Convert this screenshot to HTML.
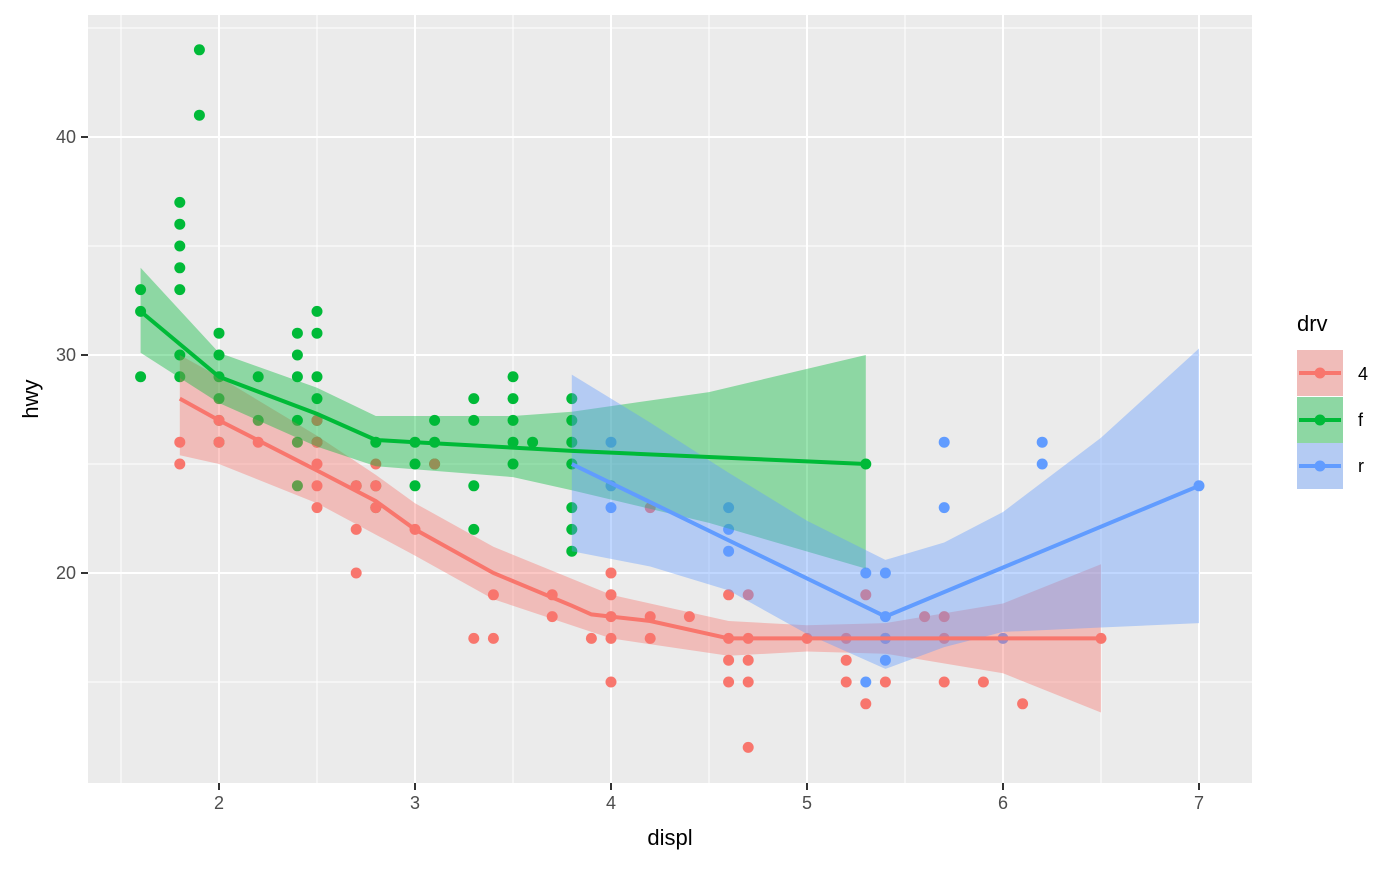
<!DOCTYPE html>
<html><head><meta charset="utf-8"><style>
html,body{margin:0;padding:0;background:#fff;}
svg text{font-family:"Liberation Sans",Arial,sans-serif;}
</style></head><body>
<svg id="s" width="1400" height="866" xmlns="http://www.w3.org/2000/svg">
<rect x="88" y="15" width="1164" height="768" fill="#EBEBEB"/>
<g id="grid"></g>
<g id="pts"></g>
<g id="rib"></g>
<g id="lines"></g>
<g font-size="18" fill="#4D4D4D" text-anchor="end">
<text x="76" y="143">40</text><text x="76" y="361">30</text><text x="76" y="579">20</text>
</g>
<g stroke="#333" stroke-width="2">
<line x1="81" y1="137" x2="88" y2="137"/><line x1="81" y1="355" x2="88" y2="355"/><line x1="81" y1="573" x2="88" y2="573"/>
<line x1="219" y1="783" x2="219" y2="790"/><line x1="415" y1="783" x2="415" y2="790"/><line x1="611" y1="783" x2="611" y2="790"/><line x1="807" y1="783" x2="807" y2="790"/><line x1="1003" y1="783" x2="1003" y2="790"/><line x1="1199" y1="783" x2="1199" y2="790"/>
</g>
<g font-size="18" fill="#4D4D4D" text-anchor="middle">
<text x="219" y="809">2</text><text x="415" y="809">3</text><text x="611" y="809">4</text><text x="807" y="809">5</text><text x="1003" y="809">6</text><text x="1199" y="809">7</text>
</g>
<text x="670" y="845" font-size="22" text-anchor="middle">displ</text>
<text x="38" y="399" font-size="22" text-anchor="middle" transform="rotate(-90 38 399)">hwy</text>
<text x="1297" y="331" font-size="22">drv</text>
<g id="leg"></g>
<g font-size="18" fill="#000"><text x="1358" y="380">4</text><text x="1358" y="426">f</text><text x="1358" y="472">r</text></g>
</svg>
<script>
const X=v=>219+(v-2)*196, Y=v=>355-(v-30)*21.8;
const NS="http://www.w3.org/2000/svg";
function el(p,t,a){const e=document.createElementNS(NS,t);for(const k in a)e.setAttribute(k,a[k]);document.getElementById(p).appendChild(e);return e;}
[1.5,2.5,3.5,4.5,5.5,6.5].forEach(v=>el('grid','line',{x1:X(v),x2:X(v),y1:15,y2:783,stroke:'#fff','stroke-width':1}));
[15,25,35,45].forEach(v=>el('grid','line',{x1:88,x2:1252,y1:Y(v),y2:Y(v),stroke:'#fff','stroke-width':1}));
[2,3,4,5,6,7].forEach(v=>el('grid','line',{x1:X(v),x2:X(v),y1:15,y2:783,stroke:'#fff','stroke-width':2}));
[20,30,40].forEach(v=>el('grid','line',{x1:88,x2:1252,y1:Y(v),y2:Y(v),stroke:'#fff','stroke-width':2}));
const C={r:'#F8766D',g:'#00BA38',b:'#619CFF'};
const P=a=>a.map(p=>X(p[0]).toFixed(1)+','+Y(p[1]).toFixed(1)).join(' ');
const ribs={
r:[[1.8,30],[2,29],[2.5,26.3],[2.8,24.5],[3,23.2],[3.4,21.2],[4,19],[4.6,17.8],[5,17.6],[5.4,17.7],[6,18.6],[6.5,20.4],[6.5,13.6],[6,15.4],[5.4,16.3],[5,16.4],[4.6,16.2],[4,17],[3.4,18.8],[3,20.8],[2.5,23.2],[2,25],[1.8,25.4]],
g:[[1.6,34],[2,30.1],[2.5,28.5],[2.8,27.2],[3.5,27.2],[3.8,27.4],[4.5,28.3],[5.3,30],[5.3,20.2],[4.5,22.3],[3.8,23.8],[3.5,24.4],[2.8,24.9],[2.5,25.8],[2,27.8],[1.6,30.1]],
b:[[3.8,29.1],[4.2,26.9],[4.6,24.6],[5,22.4],[5.4,20.6],[5.7,21.4],[6,22.8],[6.5,26.2],[7,30.3],[7,17.7],[6.5,17.5],[6,17.3],[5.7,16.6],[5.4,15.6],[5,17.2],[4.6,19.2],[4.2,20.3],[3.8,21]]};
const pts={
g:[[1.6,33],[1.6,32],[1.6,29],[1.8,37],[1.8,36],[1.8,35],[1.8,34],[1.8,33],[1.8,30],[1.8,29],[1.9,44],[1.9,41],[2,31],[2,30],[2,29],[2,28],[2,27],[2,26],[2.2,29],[2.2,27],[2.4,31],[2.4,30],[2.4,29],[2.4,27],[2.4,26],[2.4,24],[2.5,32],[2.5,31],[2.5,29],[2.5,28],[2.5,27],[2.5,26],[2.7,24],[2.8,26],[2.8,24],[2.8,23],[3,26],[3,25],[3,24],[3.1,27],[3.1,26],[3.1,25],[3.3,28],[3.3,27],[3.3,24],[3.3,22],[3.5,29],[3.5,28],[3.5,27],[3.5,26],[3.5,25],[3.6,26],[3.8,28],[3.8,27],[3.8,26],[3.8,25],[3.8,23],[3.8,22],[3.8,21],[5.3,25]],
r:[[1.8,26],[1.8,25],[2,27],[2,26],[2.2,26],[2.5,27],[2.5,26],[2.5,25],[2.5,24],[2.5,23],[2.7,24],[2.7,22],[2.7,20],[2.8,25],[2.8,24],[2.8,23],[3,22],[3.1,25],[3.3,17],[3.4,19],[3.4,17],[3.7,19],[3.7,18],[3.9,17],[4,20],[4,19],[4,18],[4,17],[4,15],[4.2,18],[4.2,17],[4.2,23],[4.4,18],[4.6,19],[4.6,17],[4.6,16],[4.6,15],[4.7,19],[4.7,17],[4.7,16],[4.7,15],[4.7,12],[5,17],[5.2,17],[5.2,16],[5.2,15],[5.3,19],[5.3,14],[5.4,17],[5.4,15],[5.6,18],[5.7,18],[5.7,17],[5.7,15],[5.9,15],[6.1,14],[6.5,17]],
b:[[4,26],[4,24],[4,23],[4.6,23],[4.6,22],[4.6,21],[5.3,20],[5.3,15],[5.4,20],[5.4,18],[5.4,17],[5.4,16],[5.7,26],[5.7,23],[6,17],[6.2,26],[6.2,25],[7,24]]};
for(const k of ['g','r','b'])pts[k].forEach(p=>el('pts','circle',{cx:X(p[0]),cy:Y(p[1]),r:5.5,fill:C[k]}));
for(const k of ['r','g','b'])el('rib','polygon',{points:P(ribs[k]),fill:C[k],'fill-opacity':0.4});
const ln={
r:[[1.8,28],[2,27],[2.5,24.7],[2.8,23.3],[3,22],[3.4,20],[3.8,18.5],[3.9,18.1],[4,18],[4.2,17.8],[4.6,17],[5,17],[5.3,17],[6.5,17]],
g:[[1.6,32],[2,29],[2.5,27.3],[2.8,26.1],[3,26],[3.8,25.6],[5.3,25]],
b:[[3.8,25],[5.4,18],[7,24]]};
for(const k of ['r','g','b'])el('lines','polyline',{points:P(ln[k]),fill:'none',stroke:C[k],'stroke-width':4});
[['r',350],['g',397],['b',443]].forEach(([k,y])=>{
el('leg','rect',{x:1297,y:y,width:46,height:46,fill:'#EBEBEB'});
el('leg','rect',{x:1297,y:y,width:46,height:46,fill:C[k],'fill-opacity':0.4});
el('leg','line',{x1:1299,x2:1341,y1:y+23,y2:y+23,stroke:C[k],'stroke-width':4});
el('leg','circle',{cx:1320,cy:y+23,r:5.5,fill:C[k]});});
</script>
</body></html>
